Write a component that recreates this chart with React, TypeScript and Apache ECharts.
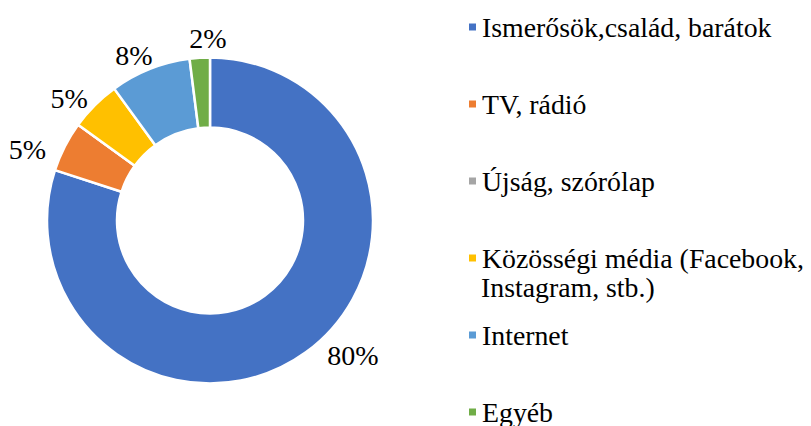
import React, { useEffect, useRef } from "react";
import * as echarts from "echarts";

const categories = [
  "Ismerősök,család, barátok",
  "TV, rádió",
  "Újság, szórólap",
  "Közösségi média (Facebook, Instagram, stb.)",
  "Internet",
  "Egyéb",
];
const values = [80, 5, 0, 5, 8, 2];
const colors = ["#4472C4", "#ED7D31", "#A5A5A5", "#FFC000", "#5B9BD5", "#70AD47"];
// label nudges (styling only)
const labelNudgeX = [15, -11, 0, 0, 8, 31];
const labelNudgeY = [0, 5, 0, -4, -10, -15];

const FONT = "Liberation Serif";
const LEGEND_FIRST_CENTER = 27;
const LEGEND_STEP = 77;
const LH = 28;

export default function App() {
  const ref = useRef<HTMLDivElement>(null);
  useEffect(() => {
    if (!ref.current) return;
    const chart = echarts.init(ref.current, undefined, { renderer: "svg" });
    const wrapName = "Közösségi média (Facebook, Instagram, stb.)";
    const legends = categories.map((c, i) => ({
      orient: "vertical",
      left: 467,
      top: LEGEND_FIRST_CENTER + LEGEND_STEP * i - LH / 2,
      padding: 0,
      itemWidth: 9,
      itemHeight: 9,
      icon: "rect",
      selectedMode: false,
      data: [c],
      formatter: (name: string) =>
        name === wrapName ? "Közösségi média (Facebook," : name,
      textStyle: {
        fontFamily: FONT,
        fontSize: 27.8,
        color: "#000",
        lineHeight: LH,
      },
    }));
    chart.setOption({
      animation: false,
      color: colors,
      legend: legends,
      graphic: [
        {
          type: "text",
          left: 481,
          top: LEGEND_FIRST_CENTER + LEGEND_STEP * 3 + 29 - LH / 2,
          style: {
            text: "Instagram, stb.)",
            fontFamily: FONT,
            fontSize: 27.8,
            lineHeight: LH,
            fill: "#000",
          },
        },
      ],
      series: [
        {
          type: "pie",
          radius: [93, 163],
          center: [210, 220.5],
          startAngle: 90,
          clockwise: true,
          avoidLabelOverlap: false,
          itemStyle: { borderColor: "#fff", borderWidth: 2.5 },
          label: {
            show: true,
            position: "outside",
            formatter: "{d}%",
            fontFamily: FONT,
            fontSize: 28,
            color: "#000",
            distanceToLabelLine: 4,
          },
          labelLine: { show: false, length: 4, length2: 0 },
          labelLayout: (p: any) => ({
            dx: labelNudgeX[p.dataIndex] || 0,
            dy: labelNudgeY[p.dataIndex] || 0,
          }),
          emphasis: { disabled: true },
          data: categories.map((c, i) => ({
            name: c,
            value: values[i],
            label: { show: values[i] > 0 },
          })),
        },
      ],
    });
    return () => chart.dispose();
  }, []);
  return (
    <div
      ref={ref}
      style={{ position: "fixed", left: 0, top: 0, width: 811, height: 426, background: "#fff" }}
    />
  );
}
